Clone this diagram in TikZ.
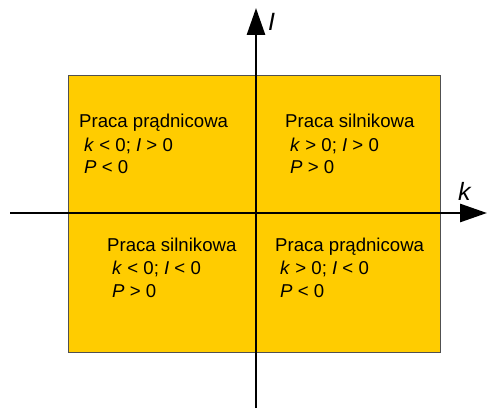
\documentclass[tikz,border=0pt]{standalone}
\usepackage{fontspec}
\setmainfont{Liberation Sans}
\usetikzlibrary{arrows.meta}
\definecolor{quadfill}{HTML}{FFCC00}
\definecolor{quadline}{HTML}{505050}
\tikzset{
  txt/.style={anchor=base west, inner sep=0pt, font=\fontsize{18.6}{22}\selectfont},
  axlabel/.style={anchor=base west, inner sep=0pt, font=\fontsize{25}{28}\selectfont\itshape},
  axis/.style={line width=2.8pt, -{Triangle[length=27pt,width=18pt]}},
}
\begin{document}
\begin{tikzpicture}[x=1pt,y=-1pt]
\useasboundingbox (0,0) rectangle (487,409);
\draw[quadline, fill=quadfill, line width=0.8pt] (68,75) rectangle (440,352);
% axes
\coordinate (xs) at (10,213);
\coordinate (xe) at (487,213);
\coordinate (ys) at (256,408);
\coordinate (ye) at (256,8);
\draw[axis] (xs) -- (xe);
\draw[axis] (ys) -- (ye);
\node[axlabel] (lI) at (268,31) {I};
\node[axlabel] (lk) at (458,200) {k};
% Q2
\node[txt] (a1) at (79,128) {Praca prądnicowa};
\node[txt] (a2) at (84,151) {\textit{k} < 0; \textit{I} > 0};
\node[txt] (a3) at (84,173) {\textit{P} < 0};
% Q1
\node[txt] (b1) at (285,128) {Praca silnikowa};
\node[txt] (b2) at (290,151) {\textit{k} > 0; \textit{I} > 0};
\node[txt] (b3) at (290,173) {\textit{P} > 0};
% Q3
\node[txt] (c1) at (107,251) {Praca silnikowa};
\node[txt] (c2) at (112,274) {\textit{k} < 0; \textit{I} < 0};
\node[txt] (c3) at (112,297) {\textit{P} > 0};
% Q4
\node[txt] (d1) at (275,251) {Praca prądnicowa};
\node[txt] (d2) at (280,274) {\textit{k} > 0; \textit{I} < 0};
\node[txt] (d3) at (280,297) {\textit{P} < 0};
\end{tikzpicture}
\end{document}
